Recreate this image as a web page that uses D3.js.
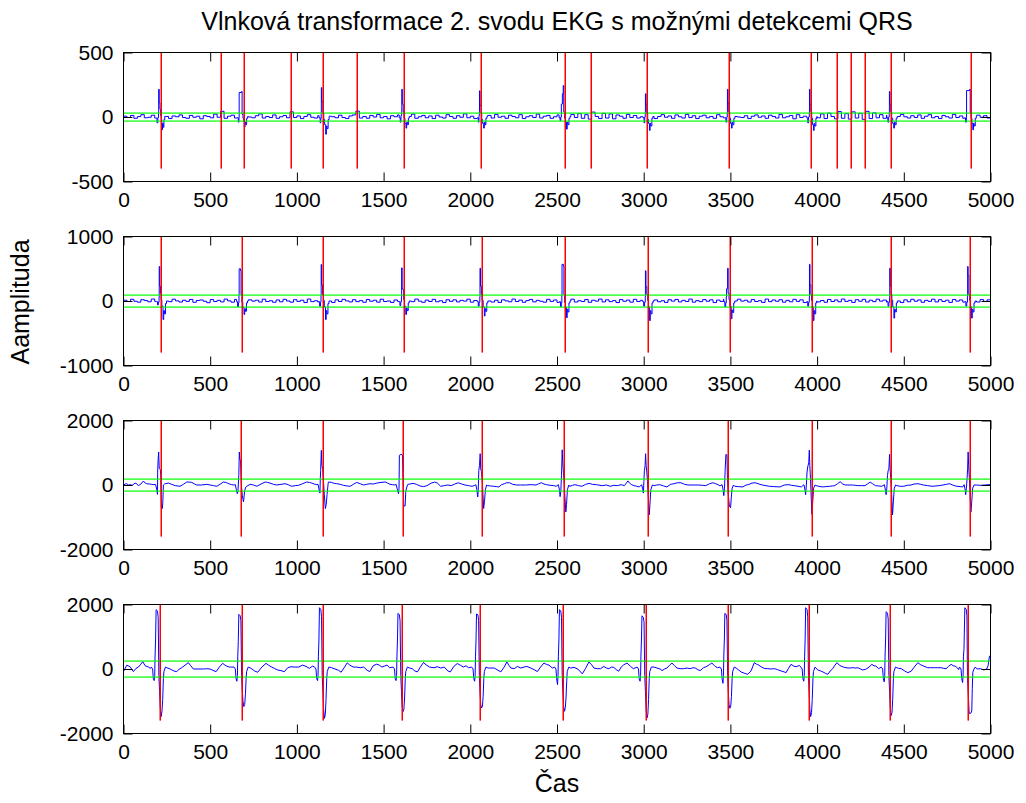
<!DOCTYPE html>
<html>
<head>
<meta charset="utf-8">
<script src="https://cdn.jsdelivr.net/npm/d3@7/dist/d3.min.js"></script>
<style>
  body { margin: 0; background: #fff; }
  svg text { font-family: "Liberation Sans", Arial, Helvetica, sans-serif; fill: #000; }
</style>
</head>
<body>
<svg id="chart" width="1026" height="803"></svg>
<script>
// ---- data ---------------------------------------------------------------
const titleText = "Vlnková transformace 2. svodu EKG s možnými detekcemi QRS";
const xLabelText = "Čas";
const yLabelText = "Aamplituda";

const xTicks = [0, 500, 1000, 1500, 2000, 2500, 3000, 3500, 4000, 4500, 5000];
const yLimits = [500, 1000, 2000, 2000];
const yTickLabels = [["-500", "0", "500"], ["-1000", "0", "1000"], ["-2000", "0", "2000"], ["-2000", "0", "2000"]];
const thresholds = [30, 90, 185, 248];

// detected QRS positions (samples) for each decomposition level
const detections1 = [219, 565, 693, 968, 1153, 1349, 1616, 2064, 2548, 2698, 3021, 3494, 3967, 4117, 4198, 4279, 4428, 4890];
const detections2 = [219, 682, 1153, 1616, 2067, 2549, 3023, 3496, 3968, 4428, 4884];
const detections3 = [219, 680, 1153, 1614, 2069, 2538, 3024, 3484, 3968, 4428, 4879];
const detections4 = [209, 686, 1151, 1604, 2057, 2535, 3011, 3489, 3955, 4419, 4871];

// level 1 and 2 baseline detail, one value every 20 samples
const noiseStep = 20;
const noise1 = [
  6,-4,12,-10,3,18,-6,-2,14,-8,
  20,-6,4,-12,8,2,16,-4,-10,12,
  -2,6,-14,10,4,-6,22,-2,44,-10,
  6,14,-8,2,-12,18,0,-6,10,24,
  -8,4,-4,16,-10,2,12,-6,40,-4,
  8,-12,4,18,-2,-8,10,6,-10,20,
  2,-6,14,-4,-12,8,16,46,-8,4,
  -10,12,0,20,-6,4,-14,10,2,16,
  -8,6,-4,22,-10,2,12,-6,8,-12,
  14,0,-8,18,4,-10,10,-2,24,-6,
  6,-12,16,2,-4,12,-8,20,-2,6,
  -10,14,4,-6,18,-12,2,10,-4,22,
  -8,6,12,-10,2,16,-6,8,-14,20,
  -4,26,-10,18,-16,38,4,-12,28,-8,
  24,-14,16,6,-10,20,-4,12,-8,2,
  14,-6,10,-12,4,18,-2,8,-10,16,
  2,-8,20,-4,10,-12,6,14,-6,4,
  -10,18,2,-6,12,-8,22,0,-4,10,
  -12,6,16,-2,8,-10,14,4,-8,20,
  -6,2,12,-14,18,-4,6,10,-8,14,
  -6,24,-12,30,4,-14,42,-10,26,-16,
  40,-8,28,-18,44,-12,32,-6,18,-10,
  14,-4,8,-12,20,2,-8,10,-4,16,
  -10,6,18,-6,4,-12,12,2,-8,20,
  -4,8,-10,16,2,-6,14,-2,10,-8,
  30
];
const noise2 = [
  12,-8,26,-4,-18,20,6,-12,30,-6,
  4,-22,18,-10,28,2,-16,12,-6,24,
  -20,8,16,-4,-26,22,-8,10,-14,30,
  2,-18,24,-10,6,-24,18,-2,12,-16,
  28,-8,4,-20,16,-12,26,0,-18,20,
  -6,12,-24,30,-10,4,-16,22,-4,8,
  -22,18,-8,26,2,-14,20,-10,6,-20,
  24,-4,12,-18,28,-8,0,-22,16,-6,
  22,-16,8,-10,30,-2,-20,14,-8,26,
  -12,4,-24,20,-6,18,-14,10,-2,28,
  -18,8,22,-10,-4,26,-16,12,-22,18,
  2,-12,30,-8,14,-20,6,24,-14,10,
  -4,-18,26,-6,16,-22,20,-10,8,28,
  -16,4,-8,24,-20,12,-2,30,-14,18,
  -10,6,-24,22,-4,14,-18,26,-8,10,
  -20,28,-6,16,-12,4,-22,20,-2,24,
  -14,10,-8,30,-18,6,-10,22,-4,18,
  -24,14,-6,26,-12,8,-20,28,-2,12,
  -16,22,-8,4,-22,30,-10,16,-4,20,
  -18,10,-12,26,-6,18,-24,14,-2,28,
  -14,8,-20,24,-8,16,-12,30,-6,10,
  -22,20,-4,26,-16,12,-10,28,-2,14,
  -18,22,-8,6,-24,18,-12,26,-4,16,
  -20,10,-6,28,-14,20,-8,12,-22,24,
  -2,16,-18,26,-10,8,-16,22,-6,18,
  10
];

// level 3 and 4 baseline between complexes, [sample, value]
const base3 = [
  [0,-10],[10,30],[19,40],[28,0],[38,10],[50,-10],[67,60],[76,40],[86,-20],[100,30],[115,124],[125,60],[134,40],[150,30],[163,20],[175,10],
  [240,40],[259,60],[278,20],[298,-20],[326,-40],[345,20],[365,93],[380,90],[394,80],[410,30],[423,0],[450,0],[480,20],[500,0],[519,-20],[538,-40],[556,20],[576,93],[590,80],[599,60],[612,30],[624,10],[636,0],
  [711,-40],[730,20],[750,0],[769,-40],[793,30],[817,93],[830,80],[845,60],[865,20],[884,0],[908,20],[932,40],[950,10],[970,-40],[990,-20],[1009,-10],[1033,40],[1057,93],[1072,80],[1086,60],[1100,30],[1115,10],
  [1182,93],[1200,80],[1215,50],[1230,40],[1250,20],[1268,-10],[1290,-30],[1307,-40],[1325,20],[1345,80],[1365,40],[1384,0],[1402,20],[1422,40],[1440,30],[1461,60],[1485,80],[1509,93],[1523,60],[1537,20],[1552,10],[1566,0],
  [1650,30],[1670,50],[1690,20],[1710,-30],[1730,-50],[1750,-20],[1775,60],[1795,90],[1810,60],[1829,-40],[1850,-20],[1870,0],[1890,-20],[1910,30],[1931,70],[1950,30],[1970,0],[1990,-20],[2010,-40],[2022,-20],
  [2100,-20],[2118,-30],[2135,-40],[2150,-50],[2165,-60],[2180,10],[2196,40],[2210,70],[2226,70],[2245,20],[2267,0],[2290,0],[2318,0],[2350,10],[2379,0],[2395,40],[2410,70],[2425,30],[2440,10],[2460,-10],[2481,-20],[2495,-40],
  [2573,-40],[2590,-10],[2604,10],[2625,-20],[2644,-40],[2665,20],[2685,50],[2705,20],[2726,10],[2760,-20],[2785,0],[2807,-40],[2828,-10],[2848,-20],[2870,10],[2889,-20],[2900,60],[2909,127],[2918,60],[2930,10],[2945,-20],[2960,-40],[2975,-60],
  [3060,-20],[3075,0],[3093,10],[3115,-30],[3134,-60],[3155,20],[3174,40],[3195,70],[3215,70],[3235,20],[3256,0],[3285,0],[3317,0],[3340,-10],[3358,-20],[3380,40],[3399,70],[3415,40],[3429,10],[3440,-30],
  [3525,-40],[3545,-50],[3572,-60],[3590,0],[3603,10],[3625,60],[3643,70],[3665,30],[3684,0],[3705,-20],[3725,-40],[3750,-50],[3786,-60],[3810,0],[3837,10],[3852,-10],[3868,-20],[3890,-40],[3909,-60],
  [3995,-20],[4010,-40],[4031,-60],[4050,-50],[4072,-40],[4088,-30],[4102,-20],[4118,40],[4133,100],[4148,30],[4163,0],[4185,0],[4204,0],[4220,-10],[4235,-20],[4255,-20],[4276,-20],[4290,30],[4306,90],[4320,40],[4337,-20],[4355,-30],[4373,-40],
  [4460,-20],[4480,-40],[4500,-40],[4520,-10],[4541,0],[4560,30],[4582,40],[4598,20],[4613,0],[4638,-20],[4663,-40],[4685,-30],[4704,-20],[4725,0],[4745,20],[4765,40],[4785,-10],[4806,-40],[4825,-50],[4840,-60],
  [4918,0],[4940,-10],[4969,0],[4985,10],[5000,10]
];
const base4 = [
  [0,-80],[19,120],[38,70],[57,-80],[72,20],[86,60],[100,150],[111,227],[125,100],[144,60],[155,20],
  [250,40],[269,0],[290,-60],[307,-83],[322,0],[336,40],[355,120],[374,196],[388,100],[403,0],[430,0],[461,0],[480,10],[499,0],[515,-40],[534,-83],[553,60],[572,175],[585,120],[595,90],[610,60],[624,60],
  [736,20],[755,-60],[774,-100],[798,60],[822,175],[836,120],[851,70],[870,20],[889,-30],[908,-50],[928,-83],[947,40],[966,70],[990,60],[1010,60],[1033,120],[1053,80],[1072,20],[1082,60],[1091,90],
  [1200,40],[1220,0],[1240,-40],[1255,-100],[1275,60],[1290,190],[1305,120],[1325,60],[1345,60],[1365,40],[1385,60],[1405,-40],[1420,-80],[1440,100],[1460,150],[1475,120],[1490,60],[1505,90],[1520,120],[1535,40],
  [1650,30],[1665,10],[1680,-60],[1695,-90],[1712,60],[1730,200],[1745,130],[1765,60],[1790,40],[1810,70],[1830,30],[1850,60],[1870,-60],[1885,-90],[1905,80],[1925,170],[1945,110],[1960,60],[1975,100],[1990,40],
  [2103,30],[2138,30],[2160,-40],[2176,-90],[2195,60],[2211,217],[2222,120],[2234,30],[2253,10],[2272,80],[2291,30],[2310,60],[2326,80],[2349,30],[2368,-20],[2387,-80],[2405,60],[2425,186],[2440,140],[2454,120],[2473,30],
  [2579,30],[2598,50],[2620,0],[2646,-150],[2665,20],[2684,217],[2700,130],[2713,30],[2732,10],[2751,10],[2770,80],[2785,30],[2799,10],[2815,60],[2828,50],[2842,-20],[2856,-70],[2870,60],[2885,130],[2904,186],[2924,80],[2940,10],
  [3060,60],[3077,30],[3095,0],[3106,-50],[3120,0],[3134,30],[3150,120],[3163,186],[3178,100],[3192,30],[3210,10],[3230,10],[3250,30],[3268,10],[3285,40],[3297,30],[3312,-20],[3326,-50],[3345,40],[3364,80],[3380,140],[3393,186],[3412,80],[3425,40],
  [3533,30],[3545,-20],[3562,-93],[3580,-130],[3600,-165],[3619,-60],[3638,196],[3650,150],[3658,140],[3677,70],[3695,20],[3715,10],[3735,0],[3754,10],[3772,-20],[3792,-60],[3810,-90],[3821,-113],[3835,20],[3850,145],[3865,90],[3879,70],[3898,110],
  [4004,-30],[4020,-60],[4033,-90],[4050,-140],[4062,-165],[4076,-60],[4090,10],[4103,120],[4115,196],[4128,120],[4138,90],[4152,60],[4167,40],[4185,30],[4206,40],[4222,30],[4235,40],[4250,0],[4263,-30],[4280,-10],[4300,60],[4315,145],[4328,100],[4340,90],[4355,10],
  [4460,40],[4470,20],[4485,10],[4505,-60],[4523,-113],[4542,-70],[4560,60],[4581,196],[4595,140],[4610,100],[4638,40],[4655,40],[4677,40],[4695,40],[4715,40],[4730,20],[4744,10],[4758,80],[4773,145],[4785,100],[4796,90],[4808,40],[4816,-20],
  [4923,0],[4942,10],[4961,-30],[4978,0],[4986,100],[4994,400],[5000,410]
];

// QRS complexes, [sample, value]
const qrs1 = [
  [[188,-8],[193,-45],[198,-5],[202,30],[203,215],[206,110],[210,60],[214,10],[218,-20],[221,-99],[225,-50],[229,-80],[233,-20],[238,5]],
  [[655,-6],[662,-40],[666,-5],[667,190],[681,198],[684,20],[689,-10],[693,-30],[697,-78],[701,-40],[705,-60],[710,-10],[716,4]],
  [[1128,-6],[1134,-45],[1138,-10],[1140,40],[1141,228],[1144,120],[1150,30],[1155,-20],[1160,-60],[1166,-133],[1170,-70],[1174,-90],[1180,-20],[1186,6]],
  [[1590,-6],[1596,-40],[1600,10],[1604,40],[1605,215],[1608,100],[1613,40],[1618,-10],[1623,-50],[1629,-86],[1633,-40],[1637,-60],[1643,-10],[1648,4]],
  [[2040,-6],[2046,-40],[2050,10],[2052,40],[2053,203],[2056,90],[2062,30],[2066,-20],[2071,-50],[2077,-86],[2081,-40],[2085,-60],[2090,-10],[2096,4]],
  [[2512,-6],[2518,-30],[2522,0],[2525,100],[2531,180],[2536,244],[2539,40],[2544,-10],[2549,-40],[2555,-94],[2559,-40],[2563,-60],[2569,-10],[2575,4]],
  [[2996,-6],[3002,-45],[3006,0],[3009,40],[3010,180],[3013,100],[3018,30],[3023,-20],[3028,-50],[3033,-104],[3037,-50],[3041,-70],[3047,-10],[3053,4]],
  [[3468,-6],[3474,-40],[3479,0],[3482,40],[3483,215],[3486,110],[3491,40],[3496,-10],[3501,-50],[3506,-86],[3510,-40],[3514,-60],[3520,-10],[3526,4]],
  [[3940,-6],[3946,-45],[3951,0],[3955,40],[3956,215],[3959,100],[3964,40],[3969,-10],[3974,-60],[3979,-104],[3983,-50],[3987,-70],[3993,-10],[3999,4]],
  [[4402,-6],[4408,-40],[4413,0],[4416,40],[4417,198],[4420,100],[4425,40],[4430,-10],[4436,-50],[4442,-86],[4446,-40],[4450,-60],[4456,-10],[4462,4]],
  [[4850,-6],[4856,-40],[4861,-5],[4862,205],[4880,215],[4883,30],[4888,-10],[4893,-50],[4898,-99],[4902,-50],[4906,-70],[4912,-10],[4918,4]]
];
const qrs2 = [
  [[190,-10],[196,-60],[201,-20],[205,60],[206,535],[209,230],[213,120],[217,20],[221,-80],[228,-287],[232,-150],[236,-200],[242,-40],[248,0]],
  [[652,-10],[658,-90],[663,-30],[666,100],[667,499],[675,470],[678,100],[683,-20],[688,-100],[695,-209],[699,-120],[703,-160],[709,-30],[715,0]],
  [[1125,-10],[1131,-80],[1136,-20],[1139,80],[1140,566],[1143,250],[1148,100],[1153,10],[1158,-90],[1165,-287],[1169,-150],[1173,-200],[1179,-40],[1185,0]],
  [[1588,-10],[1594,-70],[1599,-10],[1603,60],[1604,514],[1607,190],[1612,173],[1616,20],[1621,-80],[1628,-209],[1632,-110],[1636,-150],[1642,-30],[1648,0]],
  [[2040,-10],[2046,-80],[2051,-20],[2055,60],[2056,508],[2059,230],[2064,100],[2068,10],[2074,-90],[2081,-232],[2085,-120],[2089,-160],[2095,-30],[2101,0]],
  [[2514,-10],[2520,-90],[2525,-30],[2528,100],[2529,569],[2537,540],[2540,100],[2544,-20],[2549,-100],[2555,-259],[2559,-130],[2563,-170],[2569,-30],[2575,0]],
  [[2994,-10],[3000,-80],[3005,-20],[3009,60],[3010,469],[3013,220],[3018,100],[3023,10],[3028,-90],[3034,-304],[3038,-150],[3042,-200],[3048,-30],[3054,0]],
  [[3462,-10],[3468,-90],[3473,-30],[3476,60],[3478,190],[3484,508],[3487,120],[3492,20],[3497,-80],[3505,-276],[3509,-140],[3513,-180],[3519,-30],[3525,0]],
  [[3940,-10],[3946,-80],[3951,-20],[3955,60],[3956,569],[3959,250],[3964,100],[3968,10],[3973,-90],[3978,-304],[3982,-150],[3986,-200],[3992,-30],[3998,0]],
  [[4403,-10],[4409,-80],[4414,-20],[4418,60],[4419,508],[4422,230],[4427,100],[4431,10],[4436,-90],[4443,-265],[4447,-130],[4451,-170],[4457,-30],[4463,0]],
  [[4852,-10],[4858,-80],[4863,-20],[4867,60],[4868,535],[4871,400],[4875,100],[4880,10],[4885,-90],[4891,-265],[4895,-130],[4899,-170],[4905,-30],[4911,0]]
];
const qrs3 = [
  [[185,20],[192,-150],[196,-290],[197,400],[200,826],[203,1023],[206,520],[212,480],[215,300],[218,-700],[224,-733],[227,-500],[230,0],[236,30]],
  [[645,10],[651,-150],[656,-270],[660,-200],[665,300],[668,1023],[671,800],[675,760],[680,0],[685,-320],[692,-527],[699,-170],[706,-60]],
  [[1122,20],[1128,-150],[1133,-250],[1135,200],[1137,450],[1141,1074],[1144,600],[1149,500],[1153,150],[1158,-300],[1164,-733],[1169,-600],[1174,-300],[1180,40]],
  [[1572,20],[1580,-150],[1586,-270],[1589,-100],[1591,920],[1600,950],[1609,930],[1612,200],[1616,-650],[1624,-650],[1628,-200],[1634,-60],[1640,20]],
  [[2032,10],[2038,-150],[2043,-370],[2046,-150],[2049,450],[2053,600],[2057,970],[2060,500],[2064,420],[2069,150],[2073,-300],[2077,-728],[2082,-500],[2087,-150],[2094,0]],
  [[2508,10],[2514,-150],[2518,-360],[2522,-200],[2526,300],[2530,1092],[2533,700],[2537,400],[2541,100],[2546,-400],[2551,-838],[2555,-600],[2560,-150],[2568,0]],
  [[2988,10],[2994,-120],[2998,-250],[3001,100],[3004,450],[3008,600],[3011,970],[3014,600],[3018,400],[3022,100],[3027,-400],[3032,-927],[3036,-600],[3041,-150],[3050,0]],
  [[3452,10],[3458,-150],[3462,-330],[3466,-100],[3470,500],[3474,949],[3480,930],[3483,200],[3488,-300],[3494,-650],[3501,-706],[3505,-400],[3510,-100],[3518,0]],
  [[3924,10],[3930,-150],[3934,-300],[3938,0],[3942,400],[3946,560],[3952,700],[3955,1081],[3958,600],[3962,200],[3966,-400],[3970,-905],[3975,-500],[3980,-100],[3988,0]],
  [[4388,10],[4394,-150],[4398,-300],[4402,-100],[4406,300],[4410,450],[4414,500],[4418,949],[4421,500],[4425,200],[4430,-300],[4435,-927],[4440,-500],[4445,-100],[4453,0]],
  [[4848,10],[4854,-150],[4857,-300],[4861,-100],[4865,200],[4868,500],[4871,1026],[4874,600],[4878,200],[4882,-300],[4887,-838],[4892,-500],[4897,-100],[4905,0]]
];
const qrs4 = [
  [[160,60],[168,0],[172,-300],[177,-360],[180,-200],[182,400],[185,900],[188,1840],[196,1800],[200,1590],[204,-200],[208,-700],[212,-1200],[217,-1477],[222,-1300],[226,-950],[230,-300],[233,-80],[242,60]],
  [[637,60],[645,0],[649,-300],[654,-380],[657,-200],[659,400],[662,850],[665,1694],[673,1650],[677,1500],[681,-200],[685,-650],[689,-1000],[694,-1167],[699,-1100],[703,-800],[707,-300],[710,-80],[719,60]],
  [[1102,60],[1110,0],[1114,-300],[1119,-360],[1122,-200],[1124,400],[1127,900],[1130,1900],[1138,1850],[1142,1620],[1146,-200],[1150,-700],[1154,-1250],[1159,-1530],[1164,-1400],[1168,-950],[1172,-300],[1175,-80],[1184,60]],
  [[1555,60],[1563,0],[1567,-300],[1572,-360],[1575,-200],[1577,400],[1580,900],[1583,1725],[1591,1680],[1595,1500],[1599,-200],[1603,-700],[1607,-1150],[1612,-1322],[1617,-1250],[1621,-900],[1625,-300],[1628,-80],[1637,60]],
  [[2008,60],[2016,0],[2020,-300],[2025,-380],[2028,-200],[2030,400],[2033,900],[2036,1705],[2044,1680],[2048,1500],[2052,-200],[2056,-700],[2060,-1100],[2065,-1209],[2070,-1150],[2074,-850],[2078,-300],[2081,-80],[2090,60]],
  [[2486,60],[2494,0],[2498,-300],[2503,-485],[2506,-200],[2508,400],[2511,900],[2514,1840],[2522,1800],[2526,1600],[2530,-200],[2534,-700],[2538,-1150],[2543,-1312],[2548,-1200],[2552,-900],[2556,-380],[2559,-80],[2568,60]],
  [[2962,60],[2970,0],[2974,-300],[2979,-380],[2982,-200],[2984,400],[2987,900],[2990,1650],[2998,1600],[3002,1450],[3006,-200],[3010,-700],[3014,-1250],[3019,-1519],[3024,-1400],[3028,-950],[3032,-300],[3035,-80],[3044,60]],
  [[3440,60],[3448,0],[3452,-300],[3457,-444],[3460,-200],[3462,400],[3465,900],[3468,1725],[3476,1690],[3480,1500],[3484,-200],[3488,-700],[3492,-1100],[3497,-1219],[3502,-1150],[3506,-850],[3510,-300],[3513,-80],[3522,60]],
  [[3906,60],[3914,0],[3918,-300],[3923,-380],[3926,-200],[3928,400],[3931,900],[3934,1900],[3942,1850],[3946,1620],[3950,-200],[3954,-700],[3958,-1250],[3963,-1477],[3968,-1350],[3972,-950],[3976,-300],[3979,-80],[3988,60]],
  [[4370,60],[4378,0],[4382,-300],[4387,-400],[4390,-200],[4392,400],[4395,900],[4398,1776],[4406,1730],[4410,1550],[4414,-200],[4418,-700],[4422,-1200],[4427,-1446],[4432,-1350],[4436,-950],[4440,-300],[4443,-80],[4452,60]],
  [[4822,60],[4830,0],[4834,-300],[4839,-420],[4842,-200],[4844,400],[4847,600],[4852,1900],[4860,1850],[4864,1650],[4867,-200],[4872,-800],[4877,-1374],[4886,-1374],[4892,-1300],[4895,-600],[4898,-100],[4905,0],[4912,60]]
];

// ---- assemble traces ----------------------------------------------------
function mergeTrace(base, complexes) {
  const spans = complexes.map(c => [c[0][0], c[c.length - 1][0]]);
  const kept = base.filter(p => !spans.some(([a, b]) => p[0] >= a && p[0] <= b));
  return kept.concat(...complexes).sort((a, b) => a[0] - b[0]);
}
const panels = [
  { trace: mergeTrace(noise1.map((v, i) => [i * noiseStep, v]), qrs1), det: detections1, curve: d3.curveStepAfter },
  { trace: mergeTrace(noise2.map((v, i) => [i * noiseStep, v]), qrs2), det: detections2, curve: d3.curveStepAfter },
  { trace: mergeTrace(base3, qrs3), det: detections3, curve: d3.curveLinear },
  { trace: mergeTrace(base4, qrs4), det: detections4, curve: d3.curveLinear }
];

// ---- layout -------------------------------------------------------------
const svg = d3.select("#chart");
svg.append("rect").attr("width", 1026).attr("height", 803).attr("fill", "#fff");

const axLeft = 123.5, axRight = 990.5;
const axTops = [52.5, 236.5, 420.5, 604.5];
const axH = 129;
const tickLen = 9;
const tickFont = 21;

const x = d3.scaleLinear().domain([0, 5000]).range([axLeft, axRight]);

panels.forEach((p, i) => {
  const lim = yLimits[i];
  const top = axTops[i], bottom = top + axH;
  const y = d3.scaleLinear().domain([-lim, lim]).range([bottom, top]);
  const g = svg.append("g");

  const clipId = "clip" + i;
  svg.append("clipPath").attr("id", clipId)
    .append("rect").attr("x", axLeft).attr("y", top).attr("width", axRight - axLeft).attr("height", axH);

  const plot = g.append("g").attr("clip-path", `url(#${clipId})`);

  // wavelet coefficients
  const line = d3.line().x(d => x(d[0])).y(d => y(d[1])).curve(p.curve);
  plot.append("path").datum(p.trace)
    .attr("d", line).attr("fill", "none")
    .attr("stroke", "#0000ff").attr("stroke-width", 1).attr("stroke-linejoin", "round");

  // detection thresholds
  plot.selectAll("rect.thr").data([thresholds[i], -thresholds[i]]).join("rect")
    .attr("class", "thr")
    .attr("x", x(0)).attr("width", x(5000) - x(0))
    .attr("y", d => Math.round(y(d)) - 0.5).attr("height", 1.2)
    .attr("fill", "#00ff00");

  // detected positions
  plot.selectAll("rect.det").data(p.det).join("rect")
    .attr("class", "det")
    .attr("x", d => Math.round(x(d)) - 0.5).attr("width", 1.5)
    .attr("y", y(lim)).attr("height", y(-0.8 * lim) - y(lim))
    .attr("fill", "#ff0000");

  // axes
  const yTicks = [-lim, 0, lim];
  const axisStyle = sel => {
    sel.select(".domain").remove();
    sel.selectAll(".tick line").attr("stroke", "#000").attr("stroke-width", 1);
    sel.selectAll("text").attr("font-size", tickFont).attr("fill", "#000")
      .attr("font-family", '"Liberation Sans", Arial, sans-serif');
    sel.attr("font-size", null).attr("font-family", null);
  };
  g.append("g").attr("transform", `translate(0,${bottom})`)
    .call(d3.axisBottom(x).tickValues(xTicks).tickSizeInner(-tickLen).tickSizeOuter(0).tickPadding(11).tickFormat(d => String(d)))
    .call(axisStyle);
  g.append("g").attr("transform", `translate(0,${top})`)
    .call(d3.axisTop(x).tickValues(xTicks).tickSizeInner(-tickLen).tickSizeOuter(0).tickFormat(""))
    .call(axisStyle);
  g.append("g").attr("transform", `translate(${axLeft},0)`)
    .call(d3.axisLeft(y).tickValues(yTicks).tickSizeInner(-tickLen).tickSizeOuter(0).tickPadding(10)
      .tickFormat((d, k) => yTickLabels[i][k]))
    .call(axisStyle);
  g.append("g").attr("transform", `translate(${axRight},0)`)
    .call(d3.axisRight(y).tickValues(yTicks).tickSizeInner(-tickLen).tickSizeOuter(0).tickFormat(""))
    .call(axisStyle);

  // box
  g.append("rect").attr("x", axLeft).attr("y", top).attr("width", axRight - axLeft).attr("height", axH)
    .attr("fill", "none").attr("stroke", "#000").attr("stroke-width", 1);
});

// title and axis labels
const midX = (axLeft + axRight) / 2;
svg.append("text").attr("x", midX).attr("y", 30).attr("text-anchor", "middle")
  .attr("font-size", 25).text(titleText);
svg.append("text").attr("x", midX).attr("y", 792).attr("text-anchor", "middle")
  .attr("font-size", 25).text(xLabelText);
svg.append("text").attr("transform", "translate(29,302) rotate(-90)").attr("text-anchor", "middle")
  .attr("font-size", 25).text(yLabelText);
</script>
</body>
</html>
